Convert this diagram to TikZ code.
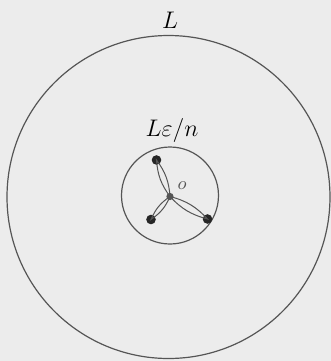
\documentclass[tikz,border=0pt]{standalone}
\usetikzlibrary{positioning}
\definecolor{paper}{RGB}{236,236,236}
\definecolor{ink}{RGB}{85,85,85}

\begin{document}
\begin{tikzpicture}[x=0.5pt,y=-0.5pt,font=\large,
  ring/.style={draw=ink,line width=0.6pt},
  petal/.style={draw=ink,line width=0.5pt},
  vert/.style={circle,fill=black!85,inner sep=0pt,minimum size=4.8pt}]
\fill[paper] (0,0) rectangle (331,361);
\useasboundingbox (0,0) rectangle (331,361);
% the two discs
\draw[ring] (168.5,197) circle[radius=161.5];
\draw[ring] (170,195.5) circle[radius=48.5];
\node (big) at (170,20) {$L$};
\node (small) at (172,130) {$L\varepsilon/n$};
% the star at o
\coordinate (o) at (170,196.5);
\node[vert] (a) at (156.5,160) {};
\node[vert] (b) at (151,219.5) {};
\node[vert] (c) at (207.5,219) {};
\foreach \v in {a,b,c}
  \draw[petal] (o) to[bend left=16] (\v.center) to[bend left=16] (o);
\fill[ink] (o) circle[radius=1.8pt];
\node[text=ink,font=\small] (olab) at (182,186) {$o$};
\end{tikzpicture}
\end{document}
